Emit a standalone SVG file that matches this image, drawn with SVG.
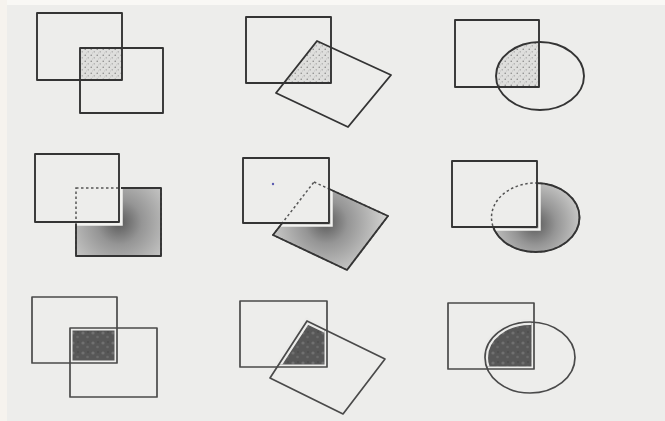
<svg xmlns="http://www.w3.org/2000/svg" width="665" height="421" viewBox="0 0 665 421">
<style>
.ln{fill:none;stroke:#343434;stroke-width:1.9;stroke-linejoin:round}
.lt{fill:none;stroke:#4a4a4a;stroke-width:1.7;stroke-linejoin:round}
.ds{fill:none;stroke:#555;stroke-width:1.5;stroke-dasharray:2.5 2.5}
.stip{fill:url(#stip);stroke:none}
.dark{fill:url(#mott);stroke:#ebebe9;stroke-width:6}
</style>
<defs>
<pattern id="stip" width="6" height="6" patternUnits="userSpaceOnUse">
<rect width="6" height="6" fill="#dededc"/>
<circle cx="1.2" cy="1.3" r="0.7" fill="#7a7a7a"/>
<circle cx="4.2" cy="3.8" r="0.6" fill="#8a8a8a"/>
<circle cx="2.5" cy="4.9" r="0.4" fill="#999"/>
</pattern>
<pattern id="mott" width="10" height="10" patternUnits="userSpaceOnUse">
<rect width="10" height="10" fill="#575757"/>
<circle cx="3" cy="3" r="1.6" fill="#707070"/>
<circle cx="7.5" cy="7" r="1.3" fill="#6a6a6a"/>
<circle cx="8" cy="2" r="0.8" fill="#444"/>
</pattern>
<radialGradient id="g1" gradientUnits="userSpaceOnUse" cx="119" cy="222" r="75">
<stop offset="0" stop-color="#5a5a5a"/><stop offset="0.3" stop-color="#959595"/><stop offset="1" stop-color="#e4e4e2"/>
</radialGradient>
<radialGradient id="g2" gradientUnits="userSpaceOnUse" cx="326" cy="222" r="72">
<stop offset="0" stop-color="#5a5a5a"/><stop offset="0.3" stop-color="#959595"/><stop offset="1" stop-color="#e4e4e2"/>
</radialGradient>
<radialGradient id="g3" gradientUnits="userSpaceOnUse" cx="535" cy="224" r="60">
<stop offset="0" stop-color="#5a5a5a"/><stop offset="0.35" stop-color="#959595"/><stop offset="1" stop-color="#e4e4e2"/>
</radialGradient>
<clipPath id="c12"><rect x="246" y="17" width="85" height="66"/></clipPath>
<clipPath id="c13"><rect x="455" y="20" width="84" height="67"/></clipPath>
<clipPath id="o21"><path clip-rule="evenodd" d="M0 0H665V421H0Z M35 154H121V224H35Z"/></clipPath>
<clipPath id="o22"><path clip-rule="evenodd" d="M0 0H665V421H0Z M243 158H330V224H243Z"/></clipPath>
<clipPath id="o23"><path clip-rule="evenodd" d="M0 0H665V421H0Z M452 161H538V228H452Z"/></clipPath>
<clipPath id="i32"><rect x="242.5" y="303.5" width="82" height="61"/></clipPath>
<clipPath id="i33"><rect x="450.5" y="305.5" width="81" height="61"/></clipPath>
</defs>
<rect width="665" height="421" fill="#ededeb"/>
<rect width="665" height="5" fill="#f9f8f5"/>
<rect width="7" height="421" fill="#f6f3ee"/>

<g id="fig-1-1">
<rect class="stip" x="80" y="48" width="42" height="32"/>
<rect class="ln" x="37" y="13" width="85" height="67"/>
<rect class="ln" x="80" y="48" width="83" height="65"/>
</g>

<g id="fig-1-2">
<polygon class="stip" clip-path="url(#c12)" points="317,41 391,75 348,127 276,93"/>
<rect class="ln" x="246" y="17" width="85" height="66"/>
<polygon class="ln" points="317,41 391,75 348,127 276,93"/>
</g>

<g id="fig-1-3">
<ellipse class="stip" clip-path="url(#c13)" cx="540" cy="76" rx="44" ry="34"/>
<rect class="ln" x="455" y="20" width="84" height="67"/>
<ellipse class="ln" cx="540" cy="76" rx="44" ry="34"/>
</g>

<g id="fig-2-1">
<rect x="76" y="188" width="85" height="68" fill="url(#g1)" stroke="none" clip-path="url(#o21)"/>
<path d="M121.5 188V224.5H76" fill="none" stroke="#f2f2f0" stroke-width="2.5"/>
<rect class="ds" x="76" y="188" width="85" height="68"/>
<rect class="ln" x="76" y="188" width="85" height="68" clip-path="url(#o21)"/>
<rect class="ln" x="35" y="154" width="84" height="68"/>
</g>

<g id="fig-2-2">
<polygon points="314,182 388,216 347,270 273,235" fill="url(#g2)" stroke="none" clip-path="url(#o22)"/>
<path d="M331.5 189V225.5H281" fill="none" stroke="#f2f2f0" stroke-width="2.5"/>
<polygon class="ds" points="314,182 388,216 347,270 273,235"/>
<polygon class="ln" points="314,182 388,216 347,270 273,235" clip-path="url(#o22)"/>
<rect class="ln" x="243" y="158" width="86" height="65"/>
<circle cx="273" cy="184" r="1.2" fill="#5a5ab0"/>
</g>

<g id="fig-2-3">
<ellipse cx="535.5" cy="217.5" rx="44" ry="34.5" fill="url(#g3)" stroke="none" clip-path="url(#o23)"/>
<path d="M539.5 184V229.5H493" fill="none" stroke="#f2f2f0" stroke-width="2.5"/>
<ellipse class="ds" cx="535.5" cy="217.5" rx="44" ry="34.5"/>
<ellipse class="ln" cx="535.5" cy="217.5" rx="44" ry="34.5" clip-path="url(#o23)"/>
<rect class="ln" x="452" y="161" width="85" height="66"/>
</g>

<g id="fig-3-1">
<rect x="72.5" y="330.5" width="42" height="30" fill="url(#mott)"/>
<rect class="lt" x="32" y="297" width="85" height="66"/>
<rect class="lt" x="70" y="328" width="87" height="69"/>
</g>

<g id="fig-3-2">
<g clip-path="url(#i32)"><polygon class="dark" points="307,321 385,359 343,414 270,378"/></g>
<rect class="lt" x="240" y="301" width="87" height="66"/>
<polygon class="lt" points="307,321 385,359 343,414 270,378"/>
</g>

<g id="fig-3-3">
<g clip-path="url(#i33)"><ellipse class="dark" cx="530" cy="357.5" rx="45" ry="35.5"/></g>
<rect class="lt" x="448" y="303" width="86" height="66"/>
<ellipse class="lt" cx="530" cy="357.5" rx="45" ry="35.5"/>
</g>
</svg>
